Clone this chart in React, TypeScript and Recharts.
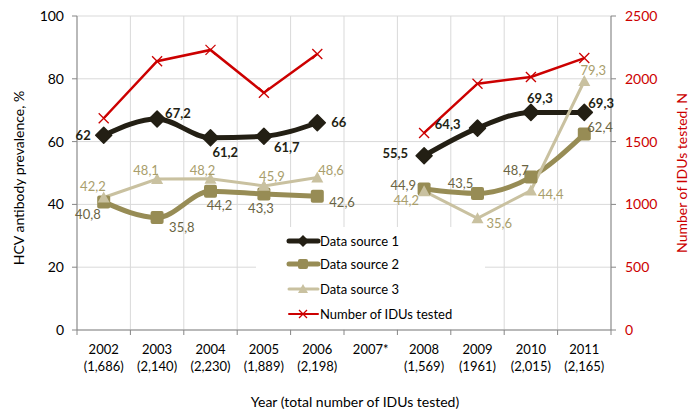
import { CartesianGrid, LabelList, Legend, Line, LineChart, XAxis, YAxis } from "recharts";

const years = ["2002", "2003", "2004", "2005", "2006", "2007*", "2008", "2009", "2010", "2011"];
const sampleLabels = ["(1,686)", "(2,140)", "(2,230)", "(1,889)", "(2,198)", "", "(1,569)", "(1961)", "(2,015)", "(2,165)"];
const tested = [1686, 2140, 2230, 1889, 2198, null, 1569, 1961, 2015, 2165];
const source1 = [62, 67.2, 61.2, 61.7, 66, null, 55.5, 64.3, 69.3, 69.3];
const source2 = [40.8, 35.8, 44.2, 43.3, 42.6, null, 44.9, 43.5, 48.7, 62.4];
const source3 = [42.2, 48.1, 48.2, 45.9, 48.6, null, 44.2, 35.6, 44.4, 79.3];
const leftTicks = [0, 20, 40, 60, 80, 100];
const rightTicks = [0, 500, 1000, 1500, 2000, 2500];

const chartData = years.map((year, i) => ({
  pos: i + 0.5,
  year,
  tested: tested[i],
  s1: source1[i],
  s2: source2[i],
  s3: source3[i],
}));

// half steps carry the year labels, whole steps are the tick marks / grid
const xTicks = Array.from({ length: 21 }, (_, i) => i / 2);
const gridX = Array.from({ length: 11 }, (_, i) => i);

const DARK = "#231f14";
const OLIVE = "#978c55";
const LIGHT = "#c9c1a0";
const RED = "#cc0000";
const AXIS = "#868686";
const FONT = "Lato, 'Open Sans', sans-serif";

// label placement per point: [dx, dy, anchor]
type Place = [number, number, "start" | "middle" | "end"];
const place1: Place[] = [[-13, 5, "end"], [8, -1, "start"], [2, 19, "start"], [10, 16, "start"], [14, 4, "start"], [0, 0, "start"], [-16, 2, "end"], [-17, 1, "end"], [9, -9, "middle"], [4, -4, "start"]];
const place2: Place[] = [[-3, 17, "end"], [12, 14, "start"], [9, 19, "middle"], [-3, 19, "middle"], [12, 11, "start"], [0, 0, "start"], [-8, 1, "end"], [-17, -5, "middle"], [-2, -2, "end"], [3, -2, "start"]];
const place3: Place[] = [[2, -6, "end"], [-11, -4, "middle"], [-8, -4, "middle"], [8, -5, "middle"], [1, -2, "start"], [0, 0, "start"], [-5, 14, "end"], [9, 10, "start"], [7, 8, "start"], [9, -6, "middle"]];

const fmt = (v: number) => String(v).replace(".", ",");

const makeLabel = (places: Place[], color: string, bold: boolean) => (props: any) => {
  const { x, y, value, index } = props;
  if (value == null) return null;
  const [dx, dy, anchor] = places[index];
  return (
    <text x={x + dx} y={y + dy} textAnchor={anchor} fill={color} fontSize={13} fontWeight={bold ? 700 : 400} fontFamily={FONT}>
      {fmt(value)}
    </text>
  );
};

const Diamond = (props: any) => {
  const { cx, cy, value } = props;
  if (value == null || cx == null) return null;
  const r = 8;
  return <polygon points={`${cx},${cy - r} ${cx + r},${cy} ${cx},${cy + r} ${cx - r},${cy}`} fill={DARK} stroke={DARK} strokeWidth={1.5} strokeLinejoin="round" />;
};

const Square = (props: any) => {
  const { cx, cy, value } = props;
  if (value == null || cx == null) return null;
  return <rect x={cx - 6.5} y={cy - 6.5} width={13} height={13} rx={2} fill={OLIVE} />;
};

const Triangle = (props: any) => {
  const { cx, cy, value } = props;
  if (value == null || cx == null) return null;
  return <polygon points={`${cx},${cy - 6} ${cx + 6},${cy + 5} ${cx - 6},${cy + 5}`} fill={LIGHT} />;
};

const Cross = (props: any) => {
  const { cx, cy, value } = props;
  if (value == null || cx == null) return null;
  const r = 5;
  return (
    <g stroke={RED} strokeWidth={1.3}>
      <line x1={cx - r} y1={cy - r} x2={cx + r} y2={cy + r} />
      <line x1={cx - r} y1={cy + r} x2={cx + r} y2={cy - r} />
    </g>
  );
};

const YearTick = (props: any) => {
  const { x, y, payload } = props;
  const v = payload.value;
  if (Number.isInteger(v)) {
    return <line x1={x} x2={x} y1={y} y2={y + 5} stroke={AXIS} />;
  }
  const i = Math.floor(v);
  return (
    <g fontFamily={FONT} fontSize={13} fill="#000">
      <text x={x} y={y + 24} textAnchor="middle">{years[i]}</text>
      {sampleLabels[i] && <text x={x} y={y + 41} textAnchor="middle">{sampleLabels[i]}</text>}
    </g>
  );
};

const legendItems = [
  { name: "Data source 1", color: DARK, width: 5, marker: "diamond" },
  { name: "Data source 2", color: OLIVE, width: 5, marker: "square" },
  { name: "Data source 3", color: LIGHT, width: 3, marker: "triangle" },
  { name: "Number of IDUs tested", color: RED, width: 2, marker: "cross" },
];

const LegendBox = () => (
  <svg width={229} height={102} style={{ display: "block" }}>
    {legendItems.map((it, i) => {
      const cy = [14, 37, 62, 87][i];
      const cx = 47;
      return (
        <g key={it.name}>
          <line x1={33} x2={62} y1={cy} y2={cy} stroke={it.color} strokeWidth={it.width} strokeLinecap="round" />
          {it.marker === "diamond" && <polygon points={`${cx},${cy - 6} ${cx + 6},${cy} ${cx},${cy + 6} ${cx - 6},${cy}`} fill={it.color} />}
          {it.marker === "square" && <rect x={cx - 5} y={cy - 5} width={10} height={10} rx={2} fill={it.color} />}
          {it.marker === "triangle" && <polygon points={`${cx},${cy - 5} ${cx + 5},${cy + 4} ${cx - 5},${cy + 4}`} fill={it.color} />}
          {it.marker === "cross" && (
            <g stroke={it.color} strokeWidth={1.2}>
              <line x1={cx - 4} y1={cy - 4} x2={cx + 4} y2={cy + 4} />
              <line x1={cx - 4} y1={cy + 4} x2={cx + 4} y2={cy - 4} />
            </g>
          )}
          <text x={64} y={cy + 5} fontSize={13} fontFamily={FONT} fill="#000">{it.name}</text>
        </g>
      );
    })}
  </svg>
);

export default function App() {
  return (
    <div style={{ width: 688, height: 412, background: "#fff", fontFamily: FONT }}>
      <style>{`body{margin:0}`}</style>
      <LineChart width={688} height={412} data={chartData} margin={{ top: 16, right: 17, left: 17, bottom: 22 }}>
        <CartesianGrid stroke="#d9d9d9" yAxisId="left" verticalValues={gridX} />
        <XAxis
          dataKey="pos"
          type="number"
          domain={[0, 10]}
          ticks={xTicks}
          interval={0}
          allowDecimals
          tickLine={false}
          tickSize={0}
          tickMargin={0}
          tick={<YearTick />}
          stroke={AXIS}
          height={60}
        />
        <YAxis
          yAxisId="left"
          domain={[0, 100]}
          ticks={leftTicks}
          width={60}
          tickSize={5}
          tickMargin={8}
          stroke={AXIS}
          tick={{ fill: "#000", fontSize: 14, fontFamily: FONT }}
        />
        <YAxis
          yAxisId="right"
          orientation="right"
          domain={[0, 2500]}
          ticks={rightTicks}
          width={60}
          tickSize={5}
          tickMargin={9}
          stroke={AXIS}
          tick={{ fill: RED, fontSize: 14, fontFamily: FONT, textAnchor: "start" }}
        />
        <Legend
          layout="vertical"
          align="center"
          verticalAlign="middle"
          content={() => <LegendBox />}
          wrapperStyle={{ position: "absolute", left: 256, top: 227, width: 229, height: 102, background: "#fff" }}
        />
        <Line yAxisId="left" dataKey="s1" type="monotone" stroke={DARK} strokeWidth={5} dot={<Diamond />} isAnimationActive={false}>
          <LabelList dataKey="s1" content={makeLabel(place1, DARK, true)} />
        </Line>
        <Line yAxisId="left" dataKey="s2" type="monotone" stroke={OLIVE} strokeWidth={5} dot={<Square />} isAnimationActive={false}>
          <LabelList dataKey="s2" content={makeLabel(place2, "#6a6443", false)} />
        </Line>
        <Line yAxisId="left" dataKey="s3" type="linear" stroke={LIGHT} strokeWidth={3} dot={<Triangle />} isAnimationActive={false}>
          <LabelList dataKey="s3" content={makeLabel(place3, "#a99e6c", false)} />
        </Line>
        <Line yAxisId="right" dataKey="tested" type="linear" stroke={RED} strokeWidth={2.5} dot={<Cross />} isAnimationActive={false} />
        <text x={18} y={178} transform="rotate(-90 18 178)" textAnchor="middle" dominantBaseline="central" fontSize={14} fontFamily={FONT} fill="#000">
          HCV antibody prevalence, %
        </text>
        <text x={681} y={173} transform="rotate(-90 681 173)" textAnchor="middle" dominantBaseline="central" fontSize={14} fontFamily={FONT} fill={RED}>
          Number of IDUs tested, N
        </text>
        <text x={355} y={401} textAnchor="middle" dominantBaseline="central" fontSize={14} fontFamily={FONT} fill="#000">
          Year (total number of IDUs tested)
        </text>
      </LineChart>
    </div>
  );
}
